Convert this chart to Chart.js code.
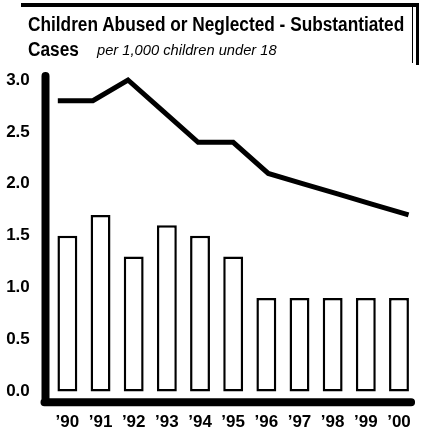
<!DOCTYPE html>
<html>
<head>
<meta charset="utf-8">
<script src="https://cdn.jsdelivr.net/npm/chart.js"></script>
<style>
  html, body { margin: 0; padding: 0; background: #fff; }
  #wrap { position: relative; width: 421px; height: 433px; overflow: hidden; }
  #chart { position: absolute; left: 0; top: 0; }
  .frame-out { position: absolute; left: 21px; top: 3px; width: 395px; height: 58px;
    border-top: 4px solid #000; border-right: 3px solid #000; }
  .frame-in { position: absolute; left: 21px; top: 6px; width: 391px; height: 57px;
    border-right: 1.5px solid #000; }
  .title { position: absolute; left: 28px; font-family: "Liberation Sans", Arial, sans-serif;
    font-weight: bold; font-size: 20px; line-height: 20px; color: #000;
    transform: scaleX(0.863); transform-origin: left top; white-space: nowrap; }
  .sub { position: absolute; left: 97px; top: 43px; font-family: "Liberation Sans", Arial, sans-serif;
    font-style: italic; font-size: 14.7px; line-height: 15px; color: #000; white-space: nowrap; }
</style>
</head>
<body>
<div id="wrap">
  <canvas id="chart" width="421" height="433"></canvas>
  <div class="frame-out"></div>
  <div class="frame-in"></div>
  <div class="title" style="top: 14px;">Children Abused or Neglected - Substantiated</div>
  <div class="title" style="top: 39px;">Cases</div>
  <div class="sub">per 1,000 children under 18</div>
</div>
<script>
const years = ['’90', '’91', '’92', '’93', '’94', '’95', '’96', '’97', '’98', '’99', '’00'];
const barValues = [1.5, 1.7, 1.3, 1.6, 1.5, 1.3, 0.9, 0.9, 0.9, 0.9, 0.9];
const lineValues = [2.8, 2.8, 3.0, 2.7, 2.4, 2.4, 2.1, 2.0, 1.9, 1.8, 1.7];
const yTicks = [0, 0.5, 1.0, 1.5, 2.0, 2.5, 3.0];

Chart.defaults.font.family = '"Liberation Sans", Arial, sans-serif';
Chart.defaults.color = '#000';

// heavy L-shaped axis with rounded ends
const axisLines = {
  id: 'axisLines',
  afterDraw(chart) {
    const { ctx, chartArea } = chart;
    const x0 = chartArea.left - 5.3;
    const y0 = chartArea.bottom + 0.5;
    ctx.save();
    ctx.strokeStyle = '#000';
    ctx.lineWidth = 8;
    ctx.lineCap = 'round';
    ctx.beginPath();
    ctx.moveTo(x0, chartArea.top - 4);
    ctx.lineTo(x0, y0);
    ctx.moveTo(x0 - 1, y0);
    ctx.lineTo(chartArea.right - 4.5, y0);
    ctx.stroke();
    ctx.restore();
  }
};

new Chart(document.getElementById('chart'), {
  type: 'bar',
  data: {
    labels: years,
    datasets: [
      {
        type: 'line',
        // the line runs on its own x scale so it spans edge to edge of the bars
        data: lineValues.map((v, i) => ({ x: i, y: v })),
        xAxisID: 'xl',
        borderColor: '#000',
        borderWidth: 5,
        borderJoinStyle: 'miter',
        pointRadius: 0,
        tension: 0,
        fill: false,
        clip: false,
        order: 0
      },
      {
        data: barValues,
        backgroundColor: '#fff',
        borderColor: '#000',
        borderWidth: 2.5,
        borderSkipped: false,
        grouped: false,
        barPercentage: 0.6,
        categoryPercentage: 1,
        order: 1
      }
    ]
  },
  options: {
    responsive: false,
    animation: false,
    layout: { padding: { top: 80, right: 4.3, left: 0, bottom: 0 } },
    plugins: { legend: { display: false }, tooltip: { enabled: false }, title: { display: false } },
    scales: {
      x: {
        offset: true,
        grid: { display: false, drawTicks: false },
        border: { display: false },
        ticks: { font: { size: 17, weight: 'bold' }, padding: 10, maxRotation: 0, autoSkip: false },
        afterFit(scale) { scale.height = 30.6; }
      },
      xl: {
        type: 'linear',
        display: false,
        offset: false,
        min: -0.2,
        max: 10.2
      },
      y: {
        min: -0.1,
        max: 3.0,
        grid: { display: false, drawTicks: false },
        border: { display: false },
        afterBuildTicks(scale) { scale.ticks = yTicks.map(v => ({ value: v })); },
        ticks: {
          font: { size: 17, weight: 'bold' },
          padding: 21,
          callback: v => Number(v).toFixed(1)
        },
        afterFit(scale) { scale.width = 50.8; }
      }
    }
  },
  plugins: [axisLines]
});
</script>
</body>
</html>
